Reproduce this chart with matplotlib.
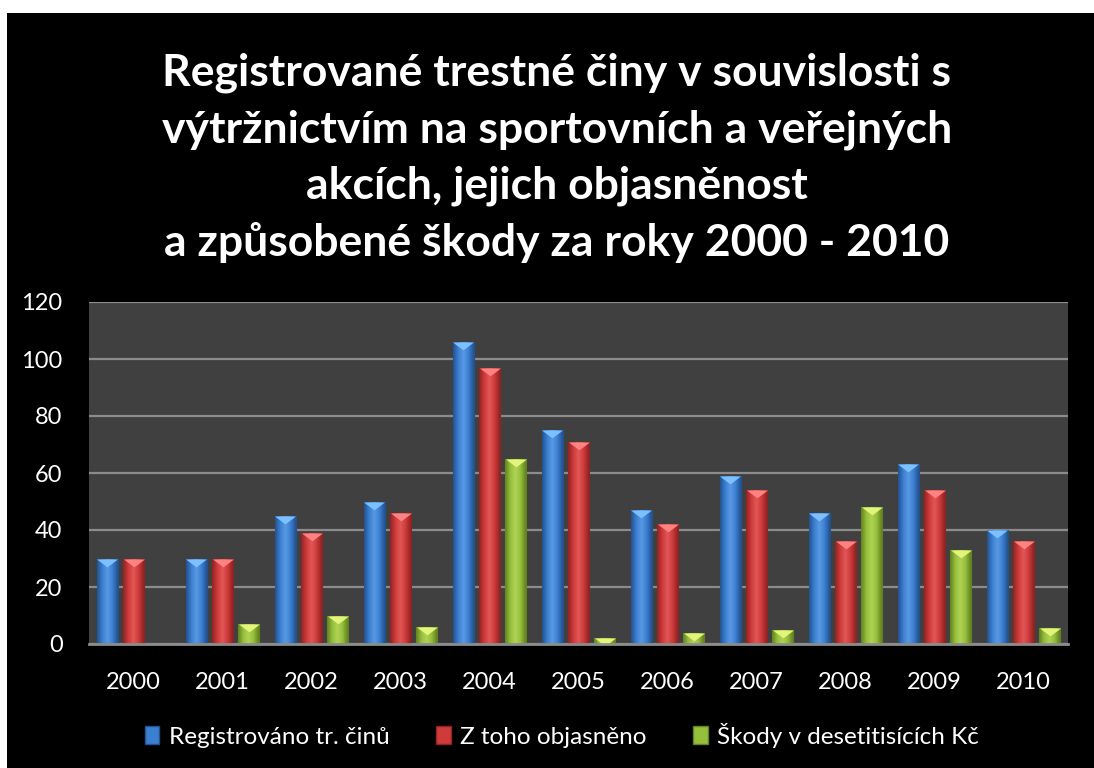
import matplotlib
matplotlib.use('Agg')
import matplotlib.pyplot as plt
import numpy as np
from matplotlib.patches import Rectangle, Patch
from matplotlib.colors import LinearSegmentedColormap

years = ['2000', '2001', '2002', '2003', '2004', '2005', '2006', '2007', '2008', '2009', '2010']
registrovano = [30, 30, 45, 50, 106, 75, 47, 59, 46, 63, 40]
objasneno = [30, 30, 39, 46, 97, 71, 42, 54, 36, 54, 36]
skody = [0, 7, 10, 6, 65, 2, 4, 5, 48, 33, 5.5]

series_names = ['Registrováno tr. činů', 'Z toho objasněno', 'Škody v desetitisících Kč']
# dark edge, body, highlight, chevron
blue = ['#23528f', '#3b7fd1', '#5a9ae4', '#7cc0ff']
red = ['#8f2323', '#cf3a3a', '#e25858', '#ff8282']
green = ['#62821f', '#96bf3c', '#b0d455', '#e2f47a']
palettes = [blue, red, green]

title = ('Registrované trestné činy v souvislosti s\n'
         'výtržnictvím na sportovních a veřejných\n'
         'akcích, jejich objasněnost\n'
         'a způsobené škody za roky 2000 - 2010')

plt.rcParams['font.family'] = ['Lato', 'DejaVu Sans']

fig = plt.figure(figsize=(10.94, 7.68), dpi=100)
fig.patch.set_facecolor('white')
# black card (thin white border top and left like the screenshot)
fig.patches.append(Rectangle((7 / 1094, 0), 1 - 7 / 1094, (768 - 13) / 768,
                             transform=fig.transFigure, facecolor='black',
                             edgecolor='none', zorder=-10))

ax = fig.add_axes([89 / 1094, (768 - 644) / 768, (1068 - 89) / 1094, (644 - 302) / 768])
ax.set_facecolor('#404040')

x = np.arange(len(years))
width = 0.235
offsets = [-0.295, 0.0, 0.295]
data = [registrovano, objasneno, skody]

# chevron marker at bar tops
chevron = [(-1, 0), (1, 0), (0, -0.75), (-1, 0)]
bar_pts = width * (ax.get_position().width * 10.94 * 72) / 11

for vals, off, pal in zip(data, offsets, palettes):
    bars = ax.bar(x + off, vals, width, color=pal[1], edgecolor=pal[0], linewidth=0.8, zorder=3)
    cmap = LinearSegmentedColormap.from_list('g', [pal[0], pal[1], pal[2], pal[1], pal[0]])
    grad = np.linspace(0, 1, 64).reshape(1, -1)
    for b, v in zip(bars, vals):
        if v <= 0:
            continue
        bx, bw = b.get_x(), b.get_width()
        im = ax.imshow(grad, cmap=cmap, aspect='auto', extent=(bx, bx + bw, 0, v),
                       zorder=3.5, interpolation='bicubic')
        im.set_clip_path(b)
        m, = ax.plot(bx + bw / 2, v, marker=chevron, markersize=bar_pts,
                     color=pal[3], markeredgewidth=0, linestyle='none', zorder=4)
        m.set_clip_path(b)

ax.set_xlim(-0.5, len(years) - 0.5)
ax.set_ylim(0, 120)
ax.set_yticks(range(0, 121, 20))
ax.set_xticks(x)
ax.set_xticklabels(years)
ax.yaxis.grid(True, color='#8c8c8c', linewidth=1.6, zorder=1)
ax.set_axisbelow(True)
for s in ['top', 'right', 'left']:
    ax.spines[s].set_visible(False)
ax.spines['bottom'].set_color('#8c8c8c')
ax.spines['bottom'].set_linewidth(2)
ax.spines['bottom'].set_zorder(5)
ax.tick_params(axis='both', length=0, labelsize=17, colors='white')
ax.tick_params(axis='y', pad=19)
ax.tick_params(axis='x', pad=20)

fig.text(557 / 1094, 1 - 158 / 768, title, ha='center', va='center', color='white',
         fontsize=32, fontweight='bold', linespacing=1.48)

handles = [Patch(facecolor=p[1], edgecolor=p[0]) for p in palettes]
leg = fig.legend(handles, series_names, loc='center', bbox_to_anchor=(562 / 1094, 1 - 735 / 768),
                 ncol=3, frameon=False, fontsize=17.5, handlelength=0.6, handleheight=0.75,
                 handletextpad=0.4, columnspacing=1.9)
for t in leg.get_texts():
    t.set_color('white')

fig.savefig('out.png', dpi=100, facecolor=fig.get_facecolor())
